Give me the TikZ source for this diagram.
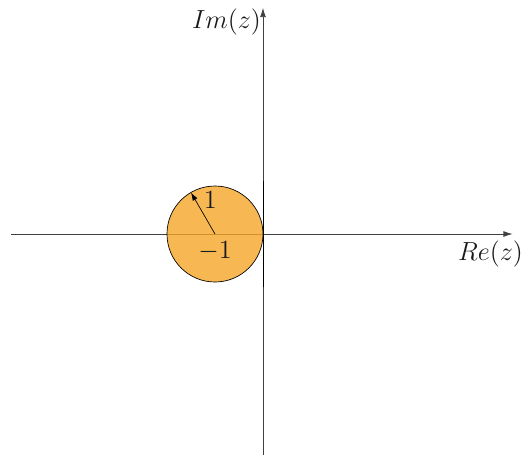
\documentclass[tikz,border=0pt]{standalone}
\usetikzlibrary{arrows.meta,calc}
\definecolor{discfill}{RGB}{245,165,40}
\newcommand{\bigtxt}[1]{\scalebox{1.08}{\Large #1}}
\begin{document}
\begin{tikzpicture}[x=1cm,y=1cm,
  tipa/.style={-{Latex[length=1.9mm,width=1.2mm]}},
  axis/.style={draw=black!75, tipa},
  disc/.style={draw=black, fill=discfill, fill opacity=0.8},
  lbl/.style={text=black!90}]
\useasboundingbox (-5.479,-4.604) rectangle (5.396,4.875);
\coordinate (xl) at (-5.25,0);
\coordinate (xr) at (5.2,0);
\coordinate (yb) at (0,-4.8);
\coordinate (yt) at (0,4.71);
\draw[axis] (xl) -- (xr);
\draw[axis] (yb) -- (yt);
\node[lbl, anchor=east, inner sep=1pt] (im) at (0,4.42) {\bigtxt{$Im(z)$}};
\node[lbl, anchor=north] (re) at (4.74,-0.02) {\bigtxt{$Re(z)$}};
\node[disc, circle, minimum size=2cm, inner sep=0pt] (c) at (-1,0) {};
\coordinate (cc) at (-1,0);
\coordinate (tip) at ($(cc)+(120:1)$);
\draw[black, -{Latex[length=1.7mm,width=1.1mm]}] (cc) -- (tip);
\coordinate (vt) at (0,1.1);
\coordinate (vb) at (0,-1.1);
\draw[black, line width=0.45pt] (vb) -- (vt);
\node[lbl, inner sep=0pt] (one) at (-1.1,0.71) {\bigtxt{$1$}};
\node[lbl, inner sep=0pt] (m1) at (-1,-0.36) {\bigtxt{$-1$}};
\end{tikzpicture}
\end{document}
